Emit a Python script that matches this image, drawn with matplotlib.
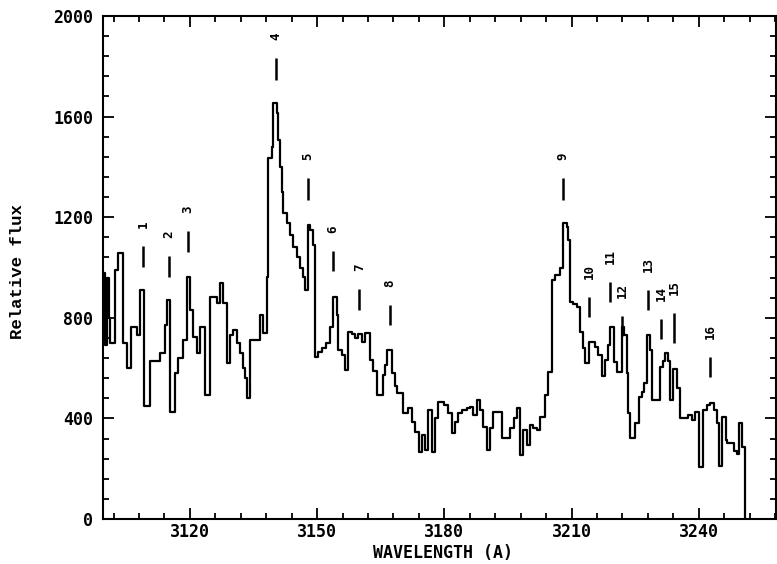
import matplotlib
matplotlib.use("Agg")
import matplotlib.pyplot as plt
from matplotlib.ticker import MultipleLocator

# Spectrum: step start wavelengths (A) and flux values
wavelength = [
    3099.5, 3100.0, 3100.4, 3100.8, 3101.2, 3102.3, 3103.1, 3104.3, 3105.1, 3106.2,
    3107.4, 3108.2, 3109.2, 3110.6, 3112.9, 3114.1, 3114.5, 3115.3, 3116.5, 3117.2,
    3118.4, 3119.2, 3120.0, 3120.8, 3121.6, 3122.4, 3123.5, 3124.7, 3126.3, 3127.1,
    3127.9, 3128.7, 3129.4, 3130.2, 3131.0, 3131.8, 3132.6, 3133.0, 3133.4, 3134.2,
    3136.5, 3137.3, 3138.1, 3138.5, 3139.3, 3139.7, 3140.5, 3140.8, 3141.2, 3141.6,
    3142.0, 3142.8, 3143.6, 3144.4, 3145.2, 3145.9, 3146.7, 3147.1, 3147.9, 3148.3,
    3149.1, 3149.5, 3150.3, 3151.1, 3152.2, 3153.0, 3153.8, 3154.6, 3155.0, 3155.8,
    3156.6, 3157.3, 3158.1, 3158.9, 3159.7, 3160.5, 3161.3, 3162.5, 3163.2, 3164.0,
    3165.6, 3166.0, 3166.4, 3167.6, 3168.4, 3168.8, 3170.3, 3171.5, 3172.3, 3173.1,
    3173.9, 3174.7, 3175.4, 3176.2, 3177.0, 3177.8, 3178.6, 3179.8, 3180.9, 3181.7,
    3182.5, 3183.3, 3184.1, 3185.3, 3186.1, 3186.8, 3187.6, 3188.4, 3189.2, 3190.0,
    3190.8, 3191.5, 3193.5, 3195.5, 3196.3, 3197.1, 3197.8, 3198.6, 3199.4, 3200.2,
    3201.0, 3201.8, 3202.6, 3203.7, 3204.5, 3205.3, 3206.1, 3207.3, 3207.9, 3208.9,
    3209.2, 3209.6, 3210.4, 3211.2, 3212.0, 3212.8, 3213.2, 3214.0, 3215.5, 3216.3,
    3217.1, 3217.9, 3218.7, 3219.1, 3219.9, 3220.7, 3221.9, 3222.4, 3223.0, 3223.4,
    3223.8, 3225.0, 3225.8, 3226.6, 3227.0, 3227.7, 3228.5, 3229.0, 3230.9, 3231.5,
    3232.1, 3232.8, 3233.2, 3234.0, 3234.8, 3235.6, 3237.5, 3238.3, 3239.1, 3240.1,
    3241.1, 3241.9, 3242.7, 3243.5, 3244.3, 3244.7, 3245.4, 3246.3, 3246.7, 3248.2,
    3249.0, 3249.4, 3250.2, 3250.8,
]
flux = [
    980, 690, 960, 800, 700, 990, 1058, 700, 600, 763,
    730, 910, 450, 628, 660, 771, 870, 425, 580, 640,
    710, 962, 830, 723, 660, 763, 493, 883, 860, 938,
    860, 620, 731, 751, 700, 660, 600, 560, 481, 711,
    811, 740, 962, 1435, 1479, 1654, 1614, 1507, 1400, 1300,
    1217, 1177, 1130, 1080, 1042, 998, 962, 910, 1169, 1149,
    1090, 644, 664, 680, 700, 763, 883, 810, 672, 652,
    592, 744, 735, 720, 735, 703, 740, 632, 590, 493,
    572, 612, 672, 580, 530, 500, 421, 441, 386, 346,
    266, 334, 274, 433, 266, 402, 465, 455, 421, 342,
    386, 421, 433, 440, 445, 413, 473, 433, 366, 274,
    362, 425, 322, 362, 400, 441, 254, 354, 294, 374,
    362, 354, 406, 493, 584, 950, 970, 998, 1177, 1161,
    1109, 863, 855, 843, 744, 680, 620, 704, 684, 652,
    570, 632, 690, 763, 624, 584, 763, 730, 580, 420,
    322, 382, 485, 505, 540, 731, 672, 473, 604, 630,
    660, 627, 473, 596, 520, 402, 413, 394, 425, 207,
    433, 453, 461, 433, 382, 211, 406, 314, 302, 270,
    260, 382, 286, 0,
]

# Identified lines: label, wavelength, tick top / bottom flux
line_ids = ["1", "2", "3", "4", "5", "6", "7", "8", "9", "10",
            "11", "12", "13", "14", "15", "16"]
line_wl = [3109.0, 3115.0, 3119.5, 3140.3, 3147.8, 3153.7, 3159.9, 3167.2,
           3208.0, 3214.1, 3219.1, 3221.9, 3228.0, 3231.1, 3234.2, 3242.7]
line_top = [1085, 1046, 1145, 1833, 1356, 1066, 915, 851,
            1356, 883, 942, 807, 911, 795, 819, 644]
line_bot = [1002, 962, 1062, 1745, 1268, 986, 831, 771,
            1268, 803, 863, 728, 831, 716, 700, 565]

x_ticks = [3120, 3150, 3180, 3210, 3240]
y_ticks = [0, 400, 800, 1200, 1600, 2000]

W, H = 777, 564
fig = plt.figure(figsize=(W / 100, H / 100), dpi=100)
left, right, top, bottom = 103, 776, 16, 519
ax = fig.add_axes([left / W, 1 - bottom / H, (right - left) / W, (bottom - top) / H])

ax.step(wavelength, flux, where="post", color="black", lw=1.6)

for lid, wl, t, b in zip(line_ids, line_wl, line_top, line_bot):
    ax.plot([wl, wl], [b, t], color="black", lw=1.8, solid_capstyle="butt")
    ax.annotate(lid, xy=(wl, t), xytext=(0, 18), textcoords="offset pixels",
                rotation=90, ha="center", va="bottom", fontsize=9,
                fontweight="bold", family="DejaVu Sans Mono")

ax.set_xlim(3099.5, 3258.2)
ax.set_ylim(0, 2000)
ax.set_xticks(x_ticks)
ax.set_yticks(y_ticks)
ax.xaxis.set_minor_locator(MultipleLocator(6))
ax.yaxis.set_minor_locator(MultipleLocator(80))
ax.tick_params(which="both", direction="in", top=True, right=True, width=1.3)
ax.tick_params(which="major", length=8)
ax.tick_params(which="minor", length=4)
ax.tick_params(axis="x", which="major", pad=3)
ax.tick_params(axis="y", which="major", pad=7)
for lab in ax.get_xticklabels() + ax.get_yticklabels():
    lab.set_fontfamily("DejaVu Sans Mono")
    lab.set_fontweight("bold")
    lab.set_fontsize(12)
for s in ax.spines.values():
    s.set_linewidth(1.5)

ax.set_xlabel("WAVELENGTH (A)", family="DejaVu Sans Mono", fontweight="bold",
              fontsize=12, va="center")
ax.xaxis.set_label_coords((443 - left) / (right - left), (bottom - 553) / (bottom - top))
ax.set_ylabel("Relative flux", family="Liberation Mono", fontweight="bold",
              fontsize=12.5, va="center")
ax.yaxis.set_label_coords((18 - left) / (right - left), (bottom - 272) / (bottom - top))

fig.savefig("out.png", dpi=100)
